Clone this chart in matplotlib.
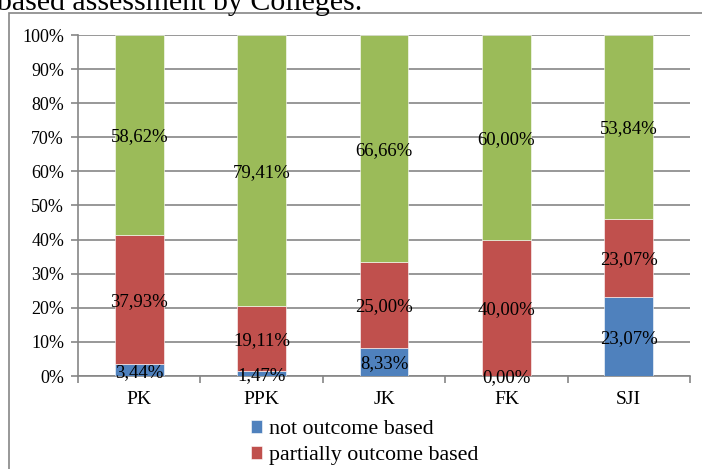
import numpy as np
import matplotlib
matplotlib.use('Agg')
import matplotlib.pyplot as plt
import matplotlib.patches as patches
from matplotlib.ticker import FixedLocator, PercentFormatter

plt.rcParams['font.family'] = ['Liberation Serif', 'DejaVu Serif']

colleges = ['PK', 'PPK', 'JK', 'FK', 'SJI']
not_outcome = [3.44, 1.47, 8.33, 0.00, 23.07]
partially_outcome = [37.93, 19.11, 25.00, 40.00, 23.07]
outcome = [58.62, 79.41, 66.66, 60.00, 53.84]
series_names = ['not outcome based', 'partially outcome based', 'outcome based']
series_colors = ['#4F81BD', '#C0504D', '#9BBB59']

grid_color = '#868686'

fig = plt.figure(figsize=(7.02, 4.69), dpi=100)
ax = fig.add_axes([78 / 702, 1 - 376 / 469, 612 / 702, 341 / 469])

x = np.arange(len(colleges))
bottom = np.zeros(len(colleges))
handles = []
for vals, name, col in zip([not_outcome, partially_outcome, outcome], series_names, series_colors):
    vals = np.array(vals)
    bars = ax.bar(x, vals, width=0.4, bottom=bottom, color=col, edgecolor='white',
                  linewidth=0.4, zorder=3, label=name)
    handles.append(bars)
    for xi, b, v in zip(x, bottom, vals):
        txt = '{:.2f}%'.format(v).replace('.', ',')
        ax.text(xi, b + v / 2, txt, ha='center', va='center_baseline', fontsize=13.5, zorder=4)
    bottom = bottom + vals

ax.set_xlim(-0.5, len(colleges) - 0.5)
ax.set_ylim(0, 100)
ax.yaxis.set_major_locator(FixedLocator(np.arange(0, 101, 10)))
ax.yaxis.set_major_formatter(PercentFormatter(decimals=0))
ax.set_xticks(x)
ax.set_xticklabels(colleges, fontsize=14)
ax.xaxis.set_minor_locator(FixedLocator(np.arange(-0.5, len(colleges), 1)))
ax.tick_params(axis='x', which='major', length=0, pad=11)
ax.tick_params(axis='x', which='minor', length=5, color=grid_color, width=1.2)
ax.tick_params(axis='y', length=5, color=grid_color, width=1.2, labelsize=13, pad=5)

ax.grid(axis='y', color=grid_color, linewidth=1.2, zorder=0)
ax.set_axisbelow(True)
for side in ['top', 'right']:
    ax.spines[side].set_visible(False)
for side in ['left', 'bottom']:
    ax.spines[side].set_color(grid_color)
    ax.spines[side].set_linewidth(1.2)

# legend below the axis (only the first two entries fit on the page)
fig.legend(handles=handles[:2], loc='upper left', bbox_to_anchor=(251 / 702, 1 - 420 / 469),
           frameon=False, fontsize=15.8, handlelength=0.5, handleheight=0.5,
           handletextpad=0.3, labelspacing=0.33, borderpad=0, borderaxespad=0)

# chart border
fig.patches.append(patches.Rectangle((9 / 702, -0.1), 1.2, 1 - 13 / 469 + 0.1,
                                     transform=fig.transFigure, fill=False,
                                     edgecolor=grid_color, linewidth=1.2))

# caption text above the chart
fig.text(-0.004, 1 - 10 / 469, 'based assessment by Colleges.', fontsize=21.5,
         ha='left', va='baseline')

fig.savefig('out.png', dpi=100)
